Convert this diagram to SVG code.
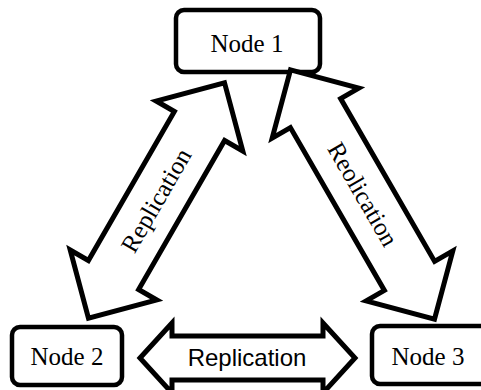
<svg xmlns="http://www.w3.org/2000/svg" width="481" height="390" viewBox="0 0 481 390">
  <defs>
    <style>
      .box { fill: #ffffff; stroke: #000000; stroke-width: 4.5; }
      .arrow { fill: #ffffff; stroke: #000000; stroke-width: 5; stroke-linejoin: miter; stroke-miterlimit: 10; }
      .node-label { font-family: "Liberation Serif", "Times New Roman", serif; font-size: 25px; fill: #000000; text-anchor: middle; }
      .serif-label { font-family: "Liberation Serif", "Times New Roman", serif; font-size: 25px; fill: #000000; text-anchor: middle; }
      .sans-label { font-family: "Liberation Sans", Arial, sans-serif; font-size: 24px; fill: #000000; text-anchor: middle; }
    </style>
  </defs>
  <rect width="481" height="390" fill="#ffffff"/>

  <g id="node1">
    <rect class="box" x="176" y="10" width="144" height="62" rx="8"/>
    <text class="node-label" x="247" y="52">Node 1</text>
  </g>
  <g id="node2">
    <rect class="box" x="12" y="327" width="110" height="58" rx="8"/>
    <text class="node-label" x="67" y="365">Node 2</text>
  </g>
  <g id="node3">
    <rect class="box" x="372" y="326" width="124" height="58" rx="8"/>
    <text class="node-label" x="428" y="365">Node 3</text>
  </g>

  <g id="connectors">
    <!-- Node 1 <-> Node 2 -->
    <g transform="translate(156.5 200.5) rotate(-60)">
      <polygon class="arrow" points="-136,0 -86,-50 -86,-29 86,-29 86,-50 136,0 86,50 86,29 -86,29 -86,50"/>
      <text class="serif-label" x="0" y="8">Replication</text>
    </g>
    <!-- Node 1 <-> Node 3 -->
    <g transform="translate(362.5 194.5) rotate(60)">
      <polygon class="arrow" points="-144,0 -94,-50 -94,-29 94,-29 94,-50 144,0 94,50 94,29 -94,29 -94,50"/>
      <text class="serif-label" x="0" y="8">Reolication</text>
    </g>
    <!-- Node 2 <-> Node 3 -->
    <polygon class="arrow" points="140,358 172,323 172,336 323,336 323,323 355,358 323,393 323,380 172,380 172,393"/>
    <text class="sans-label" x="247" y="366">Replication</text>
  </g>
</svg>
